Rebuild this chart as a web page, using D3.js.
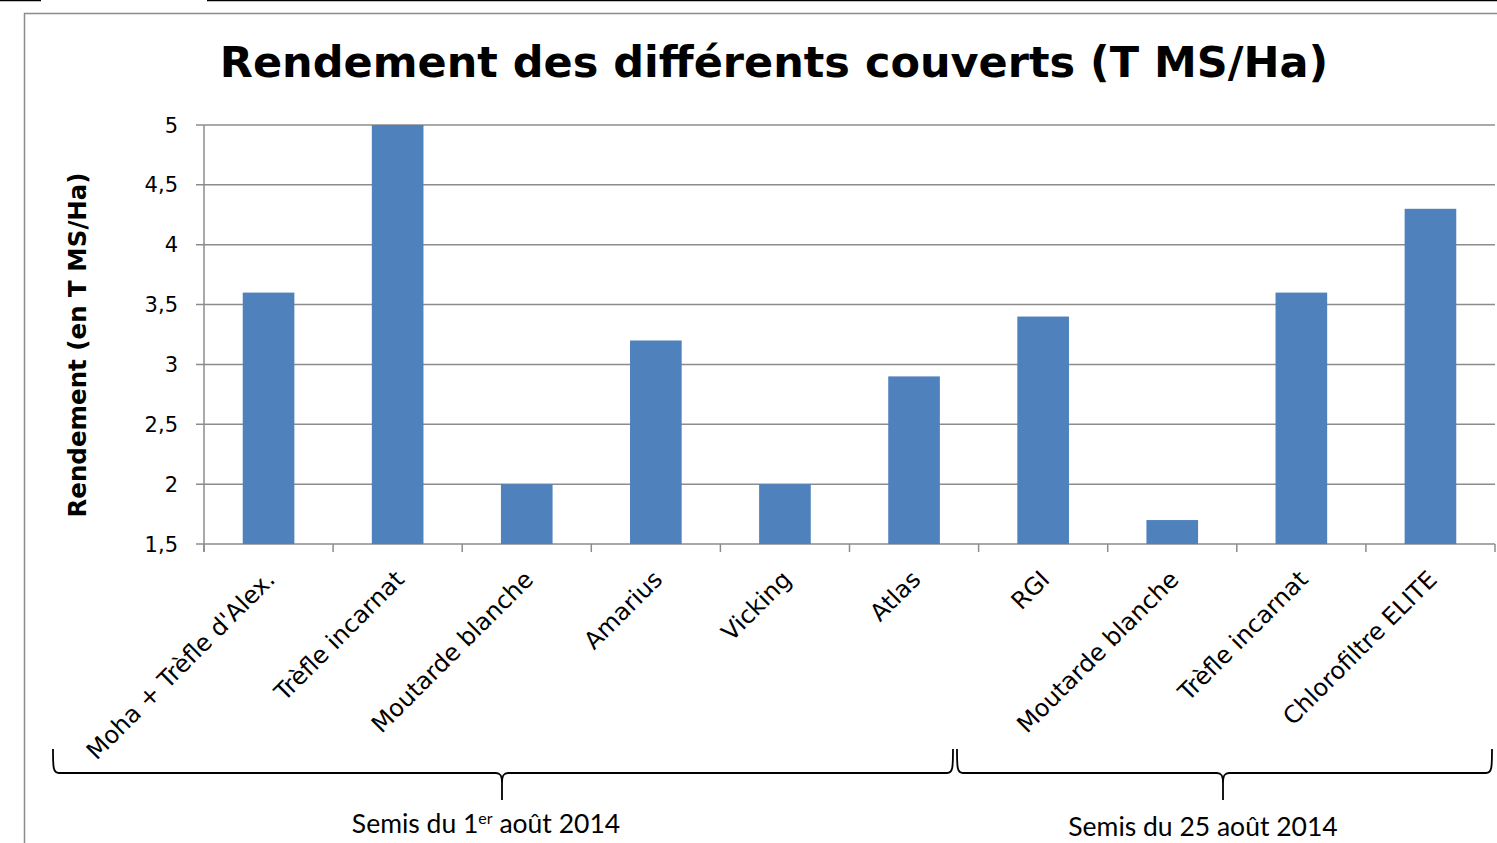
<!DOCTYPE html>
<html>
<head>
<meta charset="utf-8">
<script src="https://cdn.jsdelivr.net/npm/d3@7"></script>
<style>
  body { margin: 0; background: #fff; }
  svg { display: block; }
</style>
</head>
<body>
<div id="chart"></div>
<script>
// Data
const categories = ["Moha + Trèfle d'Alex.", "Trèfle incarnat", "Moutarde blanche", "Amarius", "Vicking",
  "Atlas", "RGI", "Moutarde blanche", "Trèfle incarnat", "Chlorofiltre ELITE"];
const values = [3.6, 5.0, 2.0, 3.2, 2.0, 2.9, 3.4, 1.7, 3.6, 4.3];
const yTicks = [1.5, 2, 2.5, 3, 3.5, 4, 4.5, 5];
const groups = [
  { label: "Semis du 1", sup: "er", rest: " août 2014" },
  { label: "Semis du 25 août 2014", sup: "", rest: "" }
];

const W = 1497, H = 843;
const margin = { top: 125, right: 2, bottom: 299, left: 204 };
const width = W - margin.left - margin.right;
const height = H - margin.top - margin.bottom;

const svg = d3.select("#chart").append("svg")
  .attr("width", W)
  .attr("height", H);

// page lines + chart frame
svg.append("line").attr("x1", 0).attr("x2", 41).attr("y1", 0.5).attr("y2", 0.5)
  .attr("stroke", "#000").attr("stroke-width", 1.5);
svg.append("line").attr("x1", 207).attr("x2", W).attr("y1", 0.5).attr("y2", 0.5)
  .attr("stroke", "#000").attr("stroke-width", 1.5);
svg.append("path").attr("d", "M24.5," + H + "V13.5H" + W)
  .attr("fill", "none").attr("stroke", "#8c8c8c").attr("stroke-width", 1.5);

const g = svg.append("g")
  .attr("transform", "translate(" + margin.left + "," + margin.top + ")");

const x = d3.scaleBand()
  .domain(d3.range(categories.length))
  .range([0, width])
  .paddingInner(0.6)
  .paddingOuter(0.3);

const y = d3.scaleLinear()
  .domain([1.5, 5])
  .range([height, 0]);

// gridlines
g.append("g")
  .selectAll("line")
  .data(yTicks)
  .enter().append("line")
  .attr("x1", -8)
  .attr("x2", width)
  .attr("y1", d => y(d))
  .attr("y2", d => y(d))
  .attr("stroke", "#8c8c8c")
  .attr("stroke-width", 1.5);

// y axis labels
g.append("g")
  .selectAll("text")
  .data(yTicks)
  .enter().append("text")
  .attr("x", -26)
  .attr("y", d => y(d))
  .attr("dy", "0.36em")
  .attr("text-anchor", "end")
  .style("font-family", "DejaVu Sans, Verdana, sans-serif")
  .style("font-size", "21px")
  .text(d => String(d).replace(".", ","));

// bars
g.selectAll(".bar")
  .data(values)
  .enter().append("rect")
  .attr("class", "bar")
  .attr("x", (d, i) => x(i))
  .attr("y", d => y(d))
  .attr("width", x.bandwidth())
  .attr("height", d => height - y(d))
  .attr("fill", "#4f81bd");

// axes lines
g.append("line").attr("x1", 0).attr("x2", 0).attr("y1", 0).attr("y2", height + 8)
  .attr("stroke", "#8c8c8c").attr("stroke-width", 1.5);
g.append("g")
  .selectAll("line")
  .data(d3.range(categories.length + 1))
  .enter().append("line")
  .attr("x1", i => i * width / categories.length)
  .attr("x2", i => i * width / categories.length)
  .attr("y1", height)
  .attr("y2", height + 8)
  .attr("stroke", "#8c8c8c")
  .attr("stroke-width", 1.5);

// x labels rotated
g.append("g")
  .selectAll("text")
  .data(categories)
  .enter().append("text")
  .attr("transform", (d, i) => "translate(" + (x(i) + x.bandwidth() / 2 + 2) + "," + (height + 31) + ") rotate(-45)")
  .attr("text-anchor", "end")
  .attr("dy", "0.35em")
  .style("font-family", "DejaVu Sans, Verdana, sans-serif")
  .style("font-size", "24px")
  .text(d => d);

// title
svg.append("text")
  .attr("x", 774)
  .attr("y", 77)
  .attr("text-anchor", "middle")
  .style("font-family", "DejaVu Sans, Verdana, sans-serif")
  .style("font-weight", "bold")
  .style("font-size", "43px")
  .text("Rendement des différents couverts (T MS/Ha)");

// y axis title
svg.append("text")
  .attr("transform", "translate(86,345) rotate(-90)")
  .attr("text-anchor", "middle")
  .style("font-family", "DejaVu Sans, Verdana, sans-serif")
  .style("font-weight", "bold")
  .style("font-size", "24.5px")
  .text("Rendement (en T MS/Ha)");

// braces
function brace(x0, x1, xm, yTop, yLine, yTip) {
  const r = 6;
  return "M" + x0 + "," + yTop +
    "C" + x0 + "," + (yLine - r) + " " + x0 + "," + yLine + " " + (x0 + r) + "," + yLine +
    "H" + (xm - r) +
    "C" + (xm - 2) + "," + yLine + " " + xm + "," + (yLine + 2) + " " + xm + "," + (yLine + 10) +
    "V" + yTip +
    "M" + xm + "," + (yLine + 10) +
    "C" + xm + "," + (yLine + 2) + " " + (xm + 2) + "," + yLine + " " + (xm + r) + "," + yLine +
    "H" + (x1 - r) +
    "C" + x1 + "," + yLine + " " + x1 + "," + (yLine - r) + " " + x1 + "," + yTop;
}
const braceData = [
  { x0: 53, x1: 953, xm: 502, lx: 486, ly: 833 },
  { x0: 957, x1: 1492, xm: 1223, lx: 1203, ly: 836 }
];
svg.selectAll(".brace")
  .data(braceData)
  .enter().append("path")
  .attr("class", "brace")
  .attr("d", d => brace(d.x0, d.x1, d.xm, 749, 773, 800))
  .attr("fill", "none")
  .attr("stroke", "#000")
  .attr("stroke-width", 1.8);

const gl = svg.selectAll(".glabel")
  .data(groups)
  .enter().append("text")
  .attr("class", "glabel")
  .attr("x", (d, i) => braceData[i].lx)
  .attr("y", (d, i) => braceData[i].ly)
  .attr("text-anchor", "middle")
  .style("font-family", "Lato, 'Open Sans', sans-serif")
  .style("font-size", "26.5px");
gl.append("tspan").text(d => d.label);
gl.append("tspan").attr("dy", d => d.sup ? -9 : 0).style("font-size", "16px").text(d => d.sup);
gl.append("tspan").attr("dy", d => d.sup ? 9 : 0).text(d => d.rest);
</script>
</body>
</html>
